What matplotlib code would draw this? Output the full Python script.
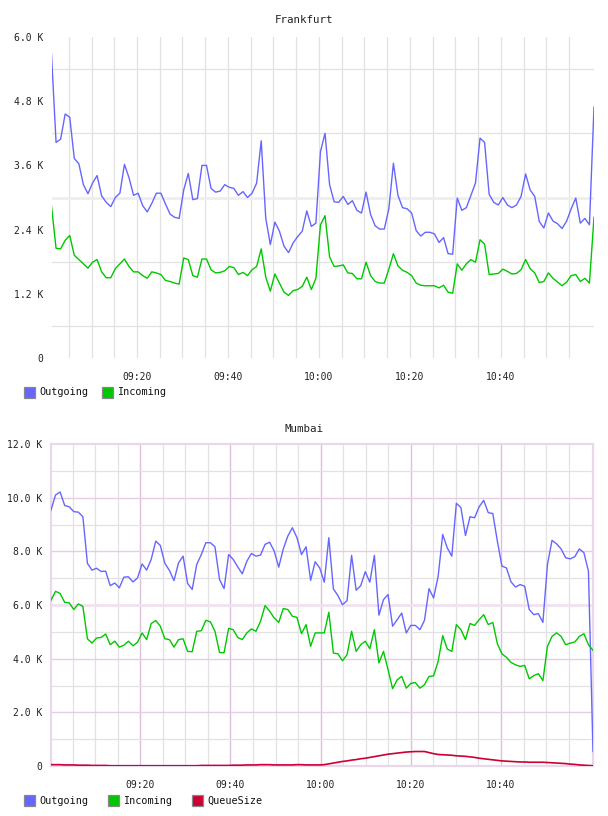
import numpy as np
import matplotlib
matplotlib.use("Agg")
import matplotlib.pyplot as plt
from matplotlib.patches import Rectangle

# ---------------- data (values in thousands) ----------------
fra_out = [5.68,4.03,4.09,4.56,4.50,3.73,3.63,3.24,3.07,3.27,
           3.41,3.03,2.91,2.83,3.00,3.08,3.62,3.37,3.04,3.08,
           2.85,2.73,2.89,3.08,3.08,2.88,2.69,2.63,2.61,3.14,
           3.45,2.96,2.98,3.60,3.60,3.17,3.10,3.12,3.24,3.19,
           3.17,3.04,3.11,3.00,3.08,3.27,4.06,2.61,2.12,2.54,
           2.37,2.09,1.97,2.15,2.27,2.37,2.75,2.46,2.52,3.86,
           4.20,3.24,2.92,2.91,3.02,2.87,2.94,2.76,2.71,3.10,
           2.68,2.47,2.41,2.41,2.79,3.64,3.04,2.81,2.79,2.71,
           2.38,2.28,2.35,2.35,2.32,2.16,2.25,1.95,1.94,2.99,
           2.76,2.81,3.04,3.27,4.11,4.03,3.06,2.91,2.86,3.00,
           2.86,2.81,2.86,3.02,3.44,3.14,3.02,2.55,2.43,2.71,
           2.56,2.51,2.42,2.56,2.79,2.99,2.52,2.61,2.49,4.69]

fra_in = [2.84,2.05,2.04,2.20,2.29,1.92,1.84,1.76,1.68,1.79,
          1.84,1.61,1.50,1.50,1.67,1.76,1.85,1.71,1.61,1.61,
          1.54,1.49,1.61,1.59,1.56,1.45,1.43,1.40,1.38,1.87,
          1.84,1.54,1.51,1.85,1.85,1.65,1.59,1.60,1.63,1.71,
          1.69,1.56,1.60,1.54,1.65,1.71,2.04,1.51,1.25,1.57,
          1.40,1.23,1.17,1.26,1.28,1.34,1.51,1.28,1.49,2.49,
          2.66,1.89,1.71,1.72,1.74,1.59,1.58,1.48,1.48,1.79,
          1.54,1.43,1.40,1.40,1.66,1.95,1.72,1.64,1.60,1.54,
          1.40,1.36,1.35,1.35,1.35,1.31,1.36,1.23,1.21,1.76,
          1.64,1.76,1.84,1.79,2.21,2.13,1.56,1.57,1.58,1.66,
          1.62,1.57,1.58,1.65,1.84,1.67,1.59,1.41,1.43,1.59,
          1.49,1.42,1.35,1.42,1.54,1.56,1.43,1.49,1.40,2.63]

mum_out = [9.54,10.10,10.21,9.71,9.66,9.48,9.46,9.29,7.55,7.30,
           7.37,7.25,7.26,6.72,6.82,6.64,7.04,7.05,6.86,7.01,
           7.53,7.30,7.70,8.38,8.22,7.55,7.29,6.91,7.57,7.82,
           6.80,6.58,7.51,7.88,8.32,8.32,8.17,6.95,6.61,7.88,
           7.70,7.42,7.16,7.63,7.92,7.82,7.86,8.26,8.34,8.01,
           7.41,8.09,8.57,8.88,8.51,7.88,8.17,6.92,7.61,7.38,
           6.85,8.51,6.60,6.35,6.01,6.16,7.85,6.55,6.72,7.24,
           6.85,7.85,5.62,6.20,6.39,5.21,5.45,5.70,4.96,5.24,
           5.24,5.08,5.43,6.61,6.26,7.07,8.63,8.13,7.82,9.79,
           9.63,8.59,9.29,9.25,9.66,9.90,9.44,9.41,8.38,7.45,
           7.38,6.86,6.67,6.76,6.70,5.83,5.64,5.68,5.35,7.51,
           8.41,8.28,8.09,7.76,7.72,7.80,8.09,7.95,7.26,0.54]

mum_in = [6.18,6.51,6.43,6.10,6.08,5.83,6.04,5.95,4.74,4.58,
          4.77,4.79,4.92,4.52,4.65,4.43,4.50,4.65,4.48,4.61,
          4.96,4.71,5.31,5.42,5.21,4.74,4.71,4.43,4.71,4.74,
          4.27,4.26,5.02,5.04,5.43,5.37,5.02,4.23,4.22,5.13,
          5.08,4.79,4.71,4.96,5.11,5.02,5.39,5.98,5.77,5.52,
          5.35,5.87,5.83,5.58,5.54,4.93,5.27,4.46,4.96,4.96,
          4.96,5.73,4.21,4.18,3.92,4.15,5.02,4.27,4.52,4.65,
          4.37,5.08,3.84,4.27,3.59,2.88,3.21,3.34,2.90,3.08,
          3.11,2.90,3.03,3.34,3.36,3.90,4.86,4.36,4.27,5.27,
          5.08,4.71,5.31,5.24,5.45,5.64,5.27,5.35,4.56,4.18,
          4.05,3.86,3.77,3.71,3.75,3.25,3.37,3.44,3.18,4.46,
          4.83,4.96,4.83,4.52,4.58,4.62,4.83,4.93,4.52,4.31]

mum_queue = [0.05,0.05,0.05,0.04,0.04,0.04,0.03,0.03,0.03,0.02,
             0.02,0.02,0.02,0.01,0.01,0.01,0.01,0.01,0.01,0.01,
             0.01,0.01,0.01,0.01,0.01,0.01,0.01,0.01,0.01,0.01,
             0.01,0.01,0.01,0.02,0.02,0.02,0.02,0.02,0.02,0.02,
             0.03,0.03,0.03,0.04,0.04,0.04,0.05,0.05,0.05,0.04,
             0.04,0.04,0.04,0.04,0.05,0.05,0.04,0.04,0.04,0.04,
             0.05,0.08,0.11,0.14,0.17,0.19,0.22,0.24,0.27,0.29,
             0.32,0.35,0.38,0.41,0.44,0.46,0.48,0.50,0.52,0.53,
             0.54,0.54,0.54,0.50,0.46,0.43,0.42,0.41,0.40,0.38,
             0.37,0.36,0.34,0.32,0.29,0.27,0.25,0.23,0.21,0.19,
             0.18,0.17,0.16,0.15,0.15,0.14,0.14,0.14,0.14,0.13,
             0.12,0.11,0.10,0.09,0.07,0.06,0.04,0.03,0.02,0.01]

# time windows in minutes after 09:00
fra_window = (1.2, 120.5)
mum_window = (0.2, 120.4)
major_ticks = [20, 40, 60, 80, 100]
minor_ticks = list(range(5, 120, 5))

C_OUT = "#6666ff"
C_IN = "#00c800"
C_Q = "#cc0033"

FONT = "DejaVu Sans Mono"
plt.rcParams["font.family"] = FONT

W, H = 608, 816
fig = plt.figure(figsize=(W / 100, H / 100), dpi=100)


def px_axes(left, top, right, bottom):
    return fig.add_axes([left / W, 1 - bottom / H, (right - left) / W, (bottom - top) / H])


def fmt_time(m):
    m = int(round(m))
    return f"{9 + m // 60:02d}:{m % 60:02d}"


def fmt_k(v):
    return "0" if abs(v) < 1e-9 else f"{v:.1f} K"


def style_common(ax, window):
    ax.set_xlim(*window)
    ax.set_xticks(major_ticks)
    ax.set_xticklabels([fmt_time(m) for m in major_ticks])
    ax.tick_params(axis="both", length=0, labelsize=7, colors="#222222")
    ax.tick_params(axis="x", pad=10)
    ax.tick_params(axis="y", pad=6)
    ax.set_facecolor("white")


def legend(names, colors, xs, ytop):
    for name, col, x in zip(names, colors, xs):
        fig.patches.append(Rectangle((x / W, 1 - (ytop + 11) / H), 11 / W, 11 / H,
                                     transform=fig.transFigure, facecolor=col,
                                     edgecolor="#888888", linewidth=0.9))
        fig.text((x + 15) / W, 1 - (ytop + 5.5) / H, name, fontsize=7.3,
                 va="center", ha="left", color="#111111", family=FONT)


# ---------------- Frankfurt ----------------
ax1 = px_axes(51.5, 37, 594, 358)
t1 = np.linspace(fra_window[0], fra_window[1], len(fra_out))
style_common(ax1, fra_window)
ax1.set_ylim(0, 6.0)
yt1 = [0, 1.2, 2.4, 3.6, 4.8, 6.0]
ax1.set_yticks(yt1)
ax1.set_yticklabels([fmt_k(v) for v in yt1])
for s in ax1.spines.values():
    s.set_visible(False)
for m in minor_ticks:
    ax1.axvline(m, color="#e2e2e2", lw=0.9, zorder=0)
for v in [0.6, 1.8, 3.0, 4.2, 5.4]:
    ax1.axhline(v, color="#eeeeee" if v == 3.0 else "#e2e2e2",
                lw=2.0 if v == 3.0 else 0.9, zorder=0)
ax1.plot(t1, fra_out, color=C_OUT, lw=1.0, zorder=3)
ax1.plot(t1, fra_in, color=C_IN, lw=1.0, zorder=3)
fig.text(304 / W, 1 - 20 / H, "Frankfurt", ha="center", va="center",
         fontsize=7.8, color="#222222")
legend(["Outgoing", "Incoming"], [C_OUT, C_IN], [24, 102], 387)

# ---------------- Mumbai ----------------
ax2 = px_axes(51, 444, 593, 766)
t2 = np.linspace(mum_window[0], mum_window[1], len(mum_out))
style_common(ax2, mum_window)
ax2.set_ylim(0, 12.0)
yt2 = [0, 2, 4, 6, 8, 10, 12]
ax2.set_yticks(yt2)
ax2.set_yticklabels([fmt_k(v) for v in yt2])
for s in ax2.spines.values():
    s.set_color("#ead8ea")
    s.set_linewidth(1.6)
for m in minor_ticks:
    if m in major_ticks:
        ax2.axvline(m, color="#dcc0dc", lw=1.0, zorder=0)
    else:
        ax2.axvline(m, color="#e2e2e2", lw=0.9, zorder=0)
for v in range(1, 12):
    if v == 6:
        ax2.axhline(v, color="#f0e2f0", lw=2.0, zorder=0)
    elif v % 2 == 0:
        ax2.axhline(v, color="#e6cce6", lw=1.0, zorder=0)
    else:
        ax2.axhline(v, color="#e2e2e2", lw=0.9, zorder=0)
ax2.plot(t2, mum_out, color=C_OUT, lw=1.0, zorder=3)
ax2.plot(t2, mum_in, color=C_IN, lw=1.0, zorder=3)
ax2.plot(t2, mum_queue, color=C_Q, lw=1.2, zorder=3)
fig.text(304 / W, 1 - 429 / H, "Mumbai", ha="center", va="center",
         fontsize=7.8, color="#222222")
legend(["Outgoing", "Incoming", "QueueSize"], [C_OUT, C_IN, C_Q], [24, 108, 192], 795)

fig.savefig("out.png", dpi=100, facecolor="white")
